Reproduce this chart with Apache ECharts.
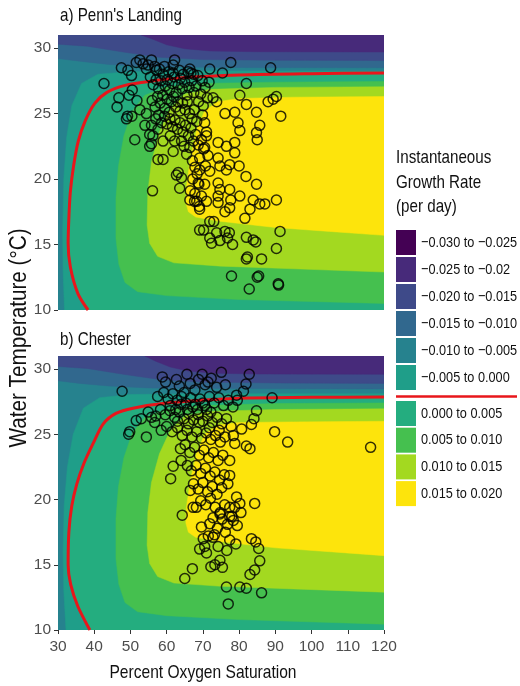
<!DOCTYPE html>
<html><head><meta charset="utf-8">
<script src="https://cdn.jsdelivr.net/npm/echarts@6/dist/echarts.min.js"></script>
<style>html,body{margin:0;padding:0;background:#fff}#c{width:520px;height:686px}</style>
</head><body><div id="c"></div>
<script>
const FONT = "'Liberation Sans',Arial,sans-serif";
const NARROW = 0.82;
const xTicks = [30,40,50,60,70,80,90,100,110,120];
const yTicks = [10,15,20,25,30];
const xMin = 30, xMax = 120, yMin = 10, yMax = 31;
const panelTitles = ["a) Penn's Landing", "b) Chester"];
const xTitle = "Percent Oxygen Saturation";
const yTitle = "Water Temperature (°C)";
const legendTitle = ["Instantaneous", "Growth Rate", "(per day)"];
const legendLabels = ["\u22120.030 to \u22120.025","\u22120.025 to \u22120.02","\u22120.020 to \u22120.015","\u22120.015 to \u22120.010","\u22120.010 to \u22120.005","\u22120.005 to 0.000","0.000 to 0.005","0.005 to 0.010","0.010 to 0.015","0.015 to 0.020"];
const levelColors = ['#440154','#472a7a','#3e4a89','#31688e','#26828e','#1f9e89','#24ad7f','#45c04f','#a3d920','#fde40c'];

// ---- Penn's Landing contour lines (O2 %, temperature) ----
const pennM020 = [[53,31],[56,30.7],[60,30.25],[65,29.95],[72,29.78],[85,29.72],[120,29.7]];
const pennM015 = [[30,30.3],[38,30.15],[48,29.7],[58,29.3],[70,29.12],[90,29.07],[120,29.05]];
const pennM010 = [[30,29.2],[36,29.0],[44,28.75],[55,28.6],[75,28.52],[120,28.5]];
const pennM005 = [[31.8,10],[31.4,13],[31.3,16],[31.6,20],[32.4,23.2],[33.8,25.6],[36.5,27.3],[41,28.0],[50,28.2],[70,28.25],[120,28.25]];
const pennZero = [[38.3,10],[35.5,11.25],[33.4,13.3],[32.8,15.1],[33.0,17],[33.4,19],[34.3,21],[35.6,22.9],[37.6,24.5],[40.2,25.8],[43.4,26.6],[48.5,27.15],[55,27.45],[65,27.75],[80,27.95],[100,28.05],[120,28.1]];
const pennP005 = [[120,27.45],[90,27.4],[70,27.3],[60,27.05],[54,26.4],[50.5,25.2],[48.2,23.3],[46.7,21],[46,18.5],[46,15.5],[46.8,13.5],[48.5,12.1],[52,11.4],[60,11.1],[80,10.8],[120,10.5]];
const pennP010 = [[120,27.05],[90,27.0],[72,26.85],[65,26.5],[61,25.4],[58,23.6],[55.8,21.3],[54.8,19],[54.6,16.5],[55.3,15.1],[57.5,14.1],[62,13.6],[75,13.35],[95,13.15],[120,12.9]];
const pennP015 = [[120,26.3],[95,26.25],[80,26.15],[74,25.9],[70.5,25.2],[68.3,23.8],[66.5,21.5],[65.4,19.3],[65.3,18.2],[66,17.5],[68,17.1],[74,16.8],[90,16.3],[105,16.0],[120,15.7]];

// ---- Chester contour lines ----
const chesM020 = [[54,31],[57,30.6],[61,30.15],[66,29.85],[73,29.68],[85,29.62],[120,29.6]];
const chesM015 = [[30,30.2],[38,30.05],[48,29.6],[58,29.2],[70,29.0],[90,28.93],[120,28.9]];
const chesM010 = [[30,29.1],[36,28.9],[44,28.7],[55,28.55],[75,28.5],[120,28.48]];
const chesM005 = [[32.2,10],[31.6,13],[31.4,16],[31.7,19.5],[32.6,22.5],[34.2,25],[37,27],[41.5,27.8],[50,28.05],[70,28.1],[120,28.1]];
const chesZero = [[38.8,10],[35.5,11.8],[33.5,13.5],[32.8,15],[33,17.5],[33.8,19.5],[35.2,21.2],[37.2,22.8],[39.7,24.3],[42.5,25.8],[46,26.6],[50.7,27.0],[60,27.4],[78.4,27.75],[100,27.83],[120,27.86]];
const chesP005 = [[120,27.4],[90,27.35],[70,27.2],[60,26.95],[54,26.3],[50.5,25.1],[48.2,23.2],[46.7,21],[46,18.5],[46,15.5],[46.8,13.5],[48.5,12.1],[52,11.4],[60,11.1],[80,10.8],[120,10.45]];
const chesP010 = [[120,26.95],[90,26.9],[72,26.75],[65,26.4],[61,25.3],[58,23.5],[55.8,21.3],[54.8,19],[54.6,16.5],[55.3,15.1],[57.5,14.1],[62,13.6],[75,13.35],[95,13.15],[120,12.9]];
const chesP015 = [[120,26.0],[95,25.95],[80,25.9],[74,25.7],[70.5,25.0],[68.3,23.6],[66.5,21.4],[65.4,19.3],[65.3,18.2],[66,17.5],[68,17.1],[74,16.8],[90,16.3],[105,16.0],[120,15.7]];

// ---- observations ----
const pennPoints = [
[42.7,27.3],[47.5,28.5],[46.3,25.5],[46.8,26.2],[48.9,24.6],[49.2,24.8],[50.4,24.8],[51.2,23.0],[51.6,28.9],[52.6,29.1],[53.5,28.8],[54.9,28.7],[55.8,29.1],[56.7,28.6],[57.2,28.3],[62.2,29.1],[61.8,28.7],[66.4,28.4],[66.7,28.1],[71.9,28.4],[75.4,28.1],[77.7,28.9],[88.7,28.5],[54.4,28.4],[49.3,28.3],[50.3,27.9],[50.5,26.8],[49.6,26.4],[51.8,26.0],[52.6,25.3],[54.4,25.0],[54.0,24.1],[55.8,24.1],[57.6,23.8],[55.3,23.4],[56.2,23.3],[59.0,22.9],[55.8,22.7],[55.3,22.5],[57.6,21.5],[59.0,21.5],[61.8,22.1],[56.1,19.1],[63.2,20.5],[62.7,20.3],[64.1,20.1],[63.6,19.3],[64.1,22.9],
[55.5,27.8],[56.3,27.2],[57.1,27.6],[57.8,26.9],[58.4,27.5],[59.0,28.0],[59.6,27.1],[60.2,27.6],[60.8,26.8],[61.5,27.3],[62.1,27.8],[62.6,26.6],[63.2,27.2],[63.8,27.7],[64.3,26.9],[65.0,27.4],[65.6,26.4],[66.2,27.0],[66.9,27.5],[67.5,26.6],[68.1,27.1],[68.8,25.9],[69.4,26.5],[70.1,25.6],
[56.0,26.0],[56.8,25.5],[57.5,26.3],[58.2,25.8],[58.9,26.4],[59.5,25.4],[60.1,26.1],[60.7,25.1],[61.3,25.9],[61.9,26.3],[62.5,25.5],[63.1,25.9],[63.7,25.2],[64.4,25.8],[65.1,25.3],[65.7,25.9],[66.3,25.0],[67.0,24.6],[67.6,25.3],[68.3,24.4],
[57.0,24.6],[57.8,24.9],[58.6,24.3],[59.4,24.8],[60.1,24.2],[60.9,24.6],[61.6,24.0],[62.3,24.5],[63.0,23.8],[63.7,24.3],[64.5,23.6],[65.2,24.1],[66.0,23.3],[66.7,23.9],[67.4,22.9],[68.0,23.4],[68.7,22.6],
[61.0,23.3],[62.2,22.9],[64.8,22.5],[65.5,21.9],[66.4,22.4],[67.1,21.4],[67.8,20.9],[68.4,20.4],[67.2,20.0],[68.9,19.6],[66.5,19.1],[67.8,18.9],[68.3,18.3],[69.0,17.9],
[59.4,28.6],[60.6,28.2],[58.0,28.4],[61.8,28.1],[63.5,28.3],[64.6,28.0],[65.9,28.2],[67.4,28.0],[68.6,27.9],[69.8,27.5],[70.6,27.0],[71.2,26.2],[69.9,24.9],[70.5,24.3],[71.0,23.6],[69.6,23.0],[70.2,22.3],[69.1,21.6],[70.7,21.0],
[71.7,27.4],[72.8,26.2],[73.8,25.9],[76.1,25.0],[78.8,25.1],[80.2,26.4],[82.0,27.3],[82.0,25.7],[84.8,25.1],[88.0,25.9],[89.4,26.1],[90.3,26.3],[91.5,24.8],[85.7,24.1],[84.8,23.55],[85.0,23.0],[79.7,24.3],[80.2,23.7],[78.8,22.8],[76.5,22.5],[74.2,22.8],[71.0,23.3],[70.5,22.4],[71.4,21.8],[74.2,21.6],[77.4,21.1],[76.5,20.7],[78.8,22.0],[80.0,21.0],[74.7,21.0],[71.9,20.6],[69.1,20.7],[68.7,19.7],[70.5,19.6],[74.2,19.7],[74.7,19.2],[74.2,18.7],[77.4,19.2],[77.7,18.4],[80.2,18.7],[81.9,20.2],[84.8,19.6],[83.9,18.4],[85.7,18.1],[87.1,18.1],[90.3,18.4],[81.6,17.0],[83.0,17.7],[77.4,17.8],[76.1,17.5],[74.2,18.2],[71.0,18.3],[69.6,18.7],[66.4,18.4],[67.7,18.3],[69.1,17.7],
[69.1,16.1],[70.2,16.1],[71.9,16.75],[73.0,16.75],[71.9,15.5],[72.4,15.1],[73.8,15.9],[74.7,15.3],[76.1,16.0],[77.3,15.9],[76.8,15.5],[78.2,15.0],[82.0,15.55],[83.9,15.35],[84.6,15.2],[82.0,13.9],[82.3,14.05],[86.2,13.9],[90.3,14.7],[91.3,16.0],[85.0,12.5],[85.4,12.6],[82.8,11.6],[77.9,12.6],[90.8,12.0],[90.9,11.9]
];
const chesPoints = [
[47.7,28.3],[49.8,25.2],[49.5,25.0],[51.6,26.05],[53.0,26.2],[54.4,24.8],[54.9,26.7],[55.8,26.3],[56.7,25.9],[58.8,29.4],[59.7,29.0],[62.7,29.2],[65.6,29.6],[69.8,29.6],[71.4,29.0],[75.1,29.75],[82.8,29.6],[81.9,28.85],[81.2,28.3],[79.3,28.0],[89.1,27.8],[89.8,25.2],[93.4,24.4],[116.3,24.0],[84.8,26.8],[84.1,26.2],[83.4,25.75],[82.0,24.1],[83.0,23.9],[80.7,25.4],[78.4,24.9],[78.8,24.3],[77.4,23.0],[77.4,21.85],[76.9,21.2],[79.3,20.2],[80.2,19.7],[78.8,19.4],[84.3,19.7],[77.4,19.4],[78.4,18.4],[77.4,18.7],[74.7,18.9],[76.2,17.5],[77.4,16.9],[79.1,16.6],[76.6,16.1],[74.2,16.4],[72.8,17.1],[74.7,15.35],[75.4,14.8],[73.3,15.0],[72.2,14.85],[71.0,15.9],[70.5,16.4],[69.1,16.2],[71.9,18.15],[69.6,17.9],[70.1,17.0],[67.3,19.4],[68.2,19.4],[64.3,18.8],[67.1,14.7],[65.0,13.95],[83.4,17.0],[84.6,16.75],[85.4,16.25],[85.7,15.3],[84.3,14.6],[83.0,14.25],[80.2,13.3],[82.0,13.2],[86.2,12.85],[76.5,13.3],[77.0,12.0],[61.1,21.6],[61.8,22.55],
[63.5,28.7],[66.5,28.9],[68.8,29.2],[70.6,28.8],[72.3,29.3],[73.8,28.6],[76.2,28.8],[64.8,28.2],[67.8,28.4],
[57.5,27.9],[59.2,28.2],[60.4,27.7],[61.7,28.1],[62.9,27.6],[64.1,27.9],[65.3,27.4],[66.6,27.8],[67.9,27.3],[69.2,27.7],[70.5,27.2],[71.8,27.9],[73.1,27.4],[74.4,27.8],[75.7,27.2],[77.0,27.6],[78.3,27.1],[79.5,27.6],
[57.0,26.4],[58.3,26.9],[59.6,26.5],[60.9,26.8],[62.2,26.3],[63.5,26.7],[64.8,26.2],[66.1,26.6],[67.4,26.1],[68.7,26.5],[70.0,26.0],[71.3,26.4],[72.6,25.9],[73.9,26.3],[75.2,25.8],[76.5,26.2],[77.8,25.6],
[58.5,25.3],[60.0,25.6],[61.5,25.2],[63.0,25.5],[64.3,24.9],[65.6,25.3],[67.0,24.8],[68.3,25.2],[69.6,24.7],[70.9,25.1],[72.2,24.6],[73.5,24.9],[74.8,24.4],[76.1,24.8],
[63.8,23.9],[65.1,24.2],[66.4,23.6],[67.7,24.0],[69.0,23.4],[70.3,23.8],[71.6,23.2],[72.9,23.6],[74.2,23.0],[75.5,23.4],[64.0,23.0],[65.7,22.6],
[66.8,22.2],[68.1,22.6],[69.4,22.0],[70.7,22.4],[72.0,21.8],[73.3,22.1],[74.6,21.5],[75.9,21.9],[67.4,21.2],[68.7,20.8],[70.0,21.3],[71.3,20.6],[72.6,21.0],[73.9,20.4],[75.2,20.9],[66.5,20.7],[69.4,19.9],[70.8,19.6],[72.1,20.1],[73.4,19.4],[74.8,19.0],[76.0,19.6],
[61.0,27.2],[62.5,26.9],[64.0,27.3],[65.7,26.9],[67.2,27.1],[68.5,26.9],[70.0,27.4],[71.0,26.9],[72.2,26.7],[63.0,26.0],[66.0,25.8],[69.0,25.9],[71.8,25.5],[74.5,25.3],
[72.8,18.6],[74.0,17.8],[75.3,18.5],[73.2,17.3],[71.5,17.2],[76.8,18.1],[78.0,18.7],[79.5,18.0],[80.5,19.0]
];

function regionPolys(m020, m015, m010, m005, zero, p005, p010, p015) {
  return [
    {pts: [[xMin,yMin],[xMax,yMin],[xMax,yMax],[xMin,yMax]], color: levelColors[4]},
    {pts: m005.concat([[xMax,yMin]]), color: levelColors[5]},
    {pts: zero.concat([[xMax,yMin]]), color: levelColors[6]},
    {pts: p005, color: levelColors[7]},
    {pts: p010, color: levelColors[8]},
    {pts: p015, color: levelColors[9]},
    {pts: m010.concat([[xMax,yMax],[xMin,yMax]]), color: levelColors[3]},
    {pts: m015.concat([[xMax,yMax],[xMin,yMax]]), color: levelColors[2]},
    {pts: m020.concat([[xMax,yMax]]), color: levelColors[1]}
  ];
}
const pennRegions = regionPolys(pennM020, pennM015, pennM010, pennM005, pennZero, pennP005, pennP010, pennP015);
const chesRegions = regionPolys(chesM020, chesM015, chesM010, chesM005, chesZero, chesP005, chesP010, chesP015);

const grids = [
  {left: 58, top: 35, width: 326, height: 275},
  {left: 58, top: 356, width: 326, height: 274}
];
const tickLabelStyle = {color: '#4d4d4d', fontSize: 15.5, fontFamily: FONT};

function xAxisFor(i) {
  return {
    gridIndex: i, type: 'value', min: xMin, max: xMax, interval: 10,
    axisLine: {show: false}, splitLine: {show: false},
    axisTick: {show: i === 1, length: 4, lineStyle: {color: '#333', width: 1}},
    axisLabel: Object.assign({show: i === 1, margin: 9}, tickLabelStyle)
  };
}
function yAxisFor(i) {
  return {
    gridIndex: i, type: 'value', min: yMin, max: yMax,
    axisLine: {show: false}, splitLine: {show: false},
    axisTick: {show: true, length: 4, customValues: yTicks, lineStyle: {color: '#333', width: 1}},
    axisLabel: Object.assign({show: true, margin: 7, customValues: yTicks}, tickLabelStyle)
  };
}
function regionSeries(i, regions) {
  return {
    type: 'custom', xAxisIndex: i, yAxisIndex: i, clip: true, silent: true,
    data: regions.map((r, k) => [k]),
    encode: {x: -1, y: -1},
    renderItem: function (params, api) {
      const r = regions[params.dataIndex];
      return {type: 'polygon', shape: {points: r.pts.map(p => api.coord(p))},
              style: {fill: r.color, stroke: r.color, lineWidth: 0.5}};
    },
    z: 1
  };
}
function lineSeries(i, pts) {
  return {type: 'line', xAxisIndex: i, yAxisIndex: i, data: pts, showSymbol: false, smooth: 0.3,
          clip: true, lineStyle: {color: '#e8161b', width: 3}, z: 3, silent: true};
}
function scatterSeries(i, pts) {
  return {type: 'scatter', xAxisIndex: i, yAxisIndex: i, data: pts, symbol: 'circle', symbolSize: 10,
          itemStyle: {color: 'rgba(0,0,0,0)', borderColor: '#000', borderWidth: 1.5}, z: 4, silent: true};
}

function narrowText(x, y, text, size, opts) {
  return Object.assign({type: 'text', x: x, y: y, scaleX: NARROW,
    style: Object.assign({text: text, fontSize: size, fontFamily: FONT, fill: '#111', verticalAlign: 'middle'}, opts || {})});
}
const graphics = [];
graphics.push(narrowText(60, 16, panelTitles[0], 18.5));
graphics.push(narrowText(60, 340, panelTitles[1], 18.5));
graphics.push({type: 'text', x: 20, y: 338, rotation: Math.PI / 2, scaleX: 0.9,
  style: {text: yTitle, fontSize: 23, fontFamily: FONT, fill: '#111', align: 'center', verticalAlign: 'middle'}});
graphics.push(narrowText(203, 673, xTitle, 19, {align: 'center'}));
legendTitle.forEach((t, k) => graphics.push(narrowText(396, 158 + 24.5 * k, t, 18.5)));
legendLabels.forEach((t, k) => {
  const top = k < 6 ? 230 + 27 * k : 401 + 26.7 * (k - 6);
  graphics.push({type: 'rect', shape: {x: 396, y: top, width: 20, height: 25}, style: {fill: levelColors[k]}});
  graphics.push(narrowText(421, top + 12.5, t, 15.5));
});
graphics.push({type: 'line', shape: {x1: 396, y1: 396.5, x2: 517, y2: 396.5}, style: {stroke: '#e8161b', lineWidth: 2.5}});

const chart = echarts.init(document.getElementById('c'), null, {renderer: 'canvas'});
chart.setOption({
  animation: false,
  backgroundColor: '#ffffff',
  grid: grids,
  xAxis: [xAxisFor(0), xAxisFor(1)],
  yAxis: [yAxisFor(0), yAxisFor(1)],
  series: [
    regionSeries(0, pennRegions), lineSeries(0, pennZero), scatterSeries(0, pennPoints),
    regionSeries(1, chesRegions), lineSeries(1, chesZero), scatterSeries(1, chesPoints)
  ],
  graphic: graphics
});
</script></body></html>
